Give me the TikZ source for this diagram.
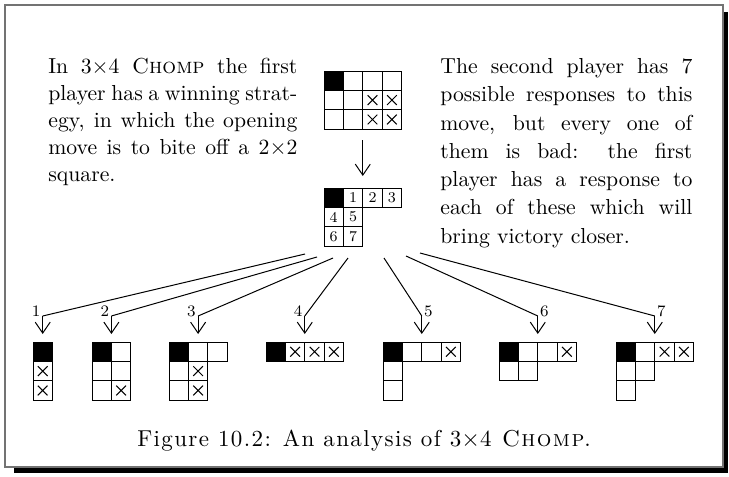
\documentclass[tikz,border=0pt]{standalone}
\usepackage{fontspec}
\newfontfamily\capfont{lmroman10-regular}[Extension=.otf,LetterSpace=6,
  SmallCapsFont=lmromancaps10-regular,SmallCapsFeatures={LetterSpace=6}]
\usetikzlibrary{arrows.meta}

\begin{document}
\begin{tikzpicture}[x=0.5pt,y=-0.5pt,
        sq/.style={draw=black,line width=0.5pt},
        poison/.style={sq,fill=black},
        cross/.style={line width=0.5pt},
        conn/.style={line width=0.5pt},
        arr/.style={line width=0.5pt,-{Straight Barb[length=5.5pt,width=7.5pt]}},
        board/.style 2 args={shift={(#1,#2)},x=9.7pt,y=-9.7pt},
        txt/.style={anchor=north west,inner sep=0pt,align=justify},
        num/.style={font=\fontsize{7.5}{8}\selectfont,inner sep=0pt},
        lab/.style={font=\fontsize{8}{9}\selectfont,inner sep=0pt}]

      \useasboundingbox (0,0) rectangle (729,477);

      \draw[black!55,line width=0.6pt] (5,5) rectangle (723,467);       % frame
      \fill (724,12) rectangle (728,473);                                % shadow
      \fill (14,468) rectangle (728,473);

      \node[txt,text width=124.5pt,font=\fontsize{10.85}{13.5}\selectfont] (left) at (48,58)
        {In 3$\times$4 \textsc{Chomp} the first\linebreak
         player has a winning strat-\linebreak
         egy, in which the opening\linebreak
         move is to bite off a 2$\times$2\linebreak
         square.};
      \node[txt,text width=126pt,font=\fontsize{10.85}{14.15}\selectfont] (right) at (440,58)
        {The second player has 7\linebreak
         possible responses to this\linebreak
         move, but every one of\linebreak
         them is bad:  the first\linebreak
         player has a response to\linebreak
         each of these which will\linebreak
         bring victory closer.};

      \begin{scope}[board={324}{71}]                                    % opening
        \foreach \c/\r in {1/0,2/0,3/0,0/1,1/1,2/1,3/1,0/2,1/2,2/2,3/2}
          \draw[sq] (\c,\r) rectangle ++(1,1);
        \draw[poison] (0,0) rectangle (1,1);
        \foreach \c/\r in {2/1,3/1,2/2,3/2}
          \draw[cross] (\c+.25,\r+.25) -- ++(.5,.5) (\c+.25,\r+.75) -- ++(.5,-.5);
        \coordinate (open) at (2,3);
      \end{scope}

      \begin{scope}[board={324}{188}]                                   % after 2x2 bite
        \foreach \c/\r in {1/0,2/0,3/0,0/1,1/1,0/2,1/2}
          \draw[sq] (\c,\r) rectangle ++(1,1);
        \draw[poison] (0,0) rectangle (1,1);
        \node[num] (n1) at (1.5,.5) {1};
        \node[num] (n2) at (2.5,.5) {2};
        \node[num] (n3) at (3.5,.5) {3};
        \node[num] (n4) at (0.5,1.5) {4};
        \node[num] (n5) at (1.5,1.5) {5};
        \node[num] (n6) at (0.5,2.5) {6};
        \node[num] (n7) at (1.5,2.5) {7};
        \coordinate (resp) at (2,0);
      \end{scope}

      \draw[arr,shorten <=5.5pt,shorten >=6pt] (open) -- (resp);

      \begin{scope}[board={33}{342}]                                    % 1
        \foreach \c/\r in {0/1,0/2}
          \draw[sq] (\c,\r) rectangle ++(1,1);
        \draw[poison] (0,0) rectangle (1,1);
        \foreach \c/\r in {0/1,0/2}
          \draw[cross] (\c+.25,\r+.25) -- ++(.5,.5) (\c+.25,\r+.75) -- ++(.5,-.5);
        \coordinate (b1) at (.5,0);
      \end{scope}
      \begin{scope}[board={92}{342}]                                    % 2
        \foreach \c/\r in {1/0,0/1,1/1,0/2,1/2}
          \draw[sq] (\c,\r) rectangle ++(1,1);
        \draw[poison] (0,0) rectangle (1,1);
        \foreach \c/\r in {1/2}
          \draw[cross] (\c+.25,\r+.25) -- ++(.5,.5) (\c+.25,\r+.75) -- ++(.5,-.5);
        \coordinate (b2) at (1,0);
      \end{scope}
      \begin{scope}[board={169}{342}]                                   % 3
        \foreach \c/\r in {1/0,2/0,0/1,1/1,0/2,1/2}
          \draw[sq] (\c,\r) rectangle ++(1,1);
        \draw[poison] (0,0) rectangle (1,1);
        \foreach \c/\r in {1/1,1/2}
          \draw[cross] (\c+.25,\r+.25) -- ++(.5,.5) (\c+.25,\r+.75) -- ++(.5,-.5);
        \coordinate (b3) at (1.5,0);
      \end{scope}
      \begin{scope}[board={266}{342}]                                   % 4
        \foreach \c/\r in {1/0,2/0,3/0}
          \draw[sq] (\c,\r) rectangle ++(1,1);
        \draw[poison] (0,0) rectangle (1,1);
        \foreach \c/\r in {1/0,2/0,3/0}
          \draw[cross] (\c+.25,\r+.25) -- ++(.5,.5) (\c+.25,\r+.75) -- ++(.5,-.5);
        \coordinate (b4) at (2,0);
      \end{scope}
      \begin{scope}[board={383}{342}]                                   % 5
        \foreach \c/\r in {1/0,2/0,3/0,0/1,0/2}
          \draw[sq] (\c,\r) rectangle ++(1,1);
        \draw[poison] (0,0) rectangle (1,1);
        \foreach \c/\r in {3/0}
          \draw[cross] (\c+.25,\r+.25) -- ++(.5,.5) (\c+.25,\r+.75) -- ++(.5,-.5);
        \coordinate (b5) at (2,0);
      \end{scope}
      \begin{scope}[board={499}{342}]                                   % 6
        \foreach \c/\r in {1/0,2/0,3/0,0/1,1/1}
          \draw[sq] (\c,\r) rectangle ++(1,1);
        \draw[poison] (0,0) rectangle (1,1);
        \foreach \c/\r in {3/0}
          \draw[cross] (\c+.25,\r+.25) -- ++(.5,.5) (\c+.25,\r+.75) -- ++(.5,-.5);
        \coordinate (b6) at (2,0);
      \end{scope}
      \begin{scope}[board={616}{342}]                                   % 7
        \foreach \c/\r in {1/0,2/0,3/0,0/1,1/1,0/2}
          \draw[sq] (\c,\r) rectangle ++(1,1);
        \draw[poison] (0,0) rectangle (1,1);
        \foreach \c/\r in {2/0,3/0}
          \draw[cross] (\c+.25,\r+.25) -- ++(.5,.5) (\c+.25,\r+.75) -- ++(.5,-.5);
        \coordinate (b7) at (2,0);
      \end{scope}

      % fan of replies
      \coordinate (s1) at (305,254);
      \coordinate (s2) at (317,257);
      \coordinate (s3) at (333,258);
      \coordinate (s4) at (348,258);
      \coordinate (s5) at (384,258);
      \coordinate (s6) at (406,256);
      \coordinate (s7) at (420,253);
      \foreach \i in {1,...,7} {
        \coordinate (k\i) at (b\i |- 0,316);
        \draw[conn] (s\i) -- (k\i);
        \draw[arr,shorten >=4pt] (k\i) -- (b\i);
      }
      \node[lab,anchor=base east,xshift=-1pt] (l1) at (k1) {1};
      \node[lab,anchor=base east,xshift=-1pt] (l2) at (k2) {2};
      \node[lab,anchor=base east,xshift=-1pt] (l3) at (k3) {3};
      \node[lab,anchor=base east,xshift=-1pt] (l4) at (k4) {4};
      \node[lab,anchor=base west,xshift=1pt]  (l5) at (k5) {5};
      \node[lab,anchor=base west,xshift=1pt]  (l6) at (k6) {6};
      \node[lab,anchor=base west,xshift=1pt]  (l7) at (k7) {7};

      \node[font=\capfont\fontsize{11.5}{14}\selectfont] (cap) at (364,441)
        {Figure 10.2: An analysis of 3$\times$4 \textsc{Chomp}.};
    \end{tikzpicture}
\end{document}
